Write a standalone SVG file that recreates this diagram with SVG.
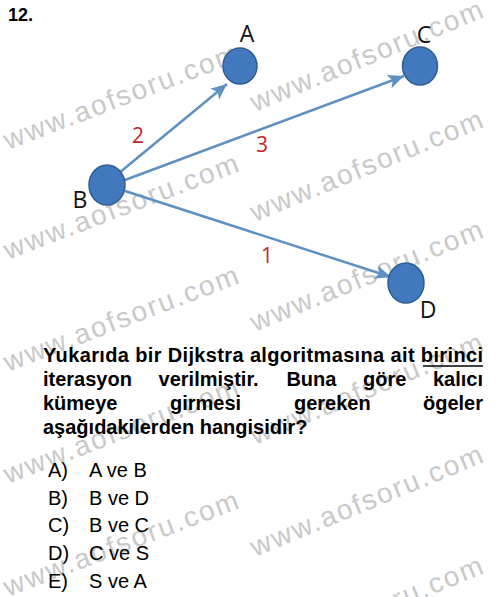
<svg xmlns="http://www.w3.org/2000/svg" width="500" height="597" viewBox="0 0 500 597">
<style>
.wm{font-family:"Liberation Sans",Arial,sans-serif;font-size:28px;letter-spacing:2px;fill:#c9c9c9}
.node{fill:#4279be;stroke:#2d5e91;stroke-width:1.5}
.lbl{font-family:"Open Sans","Noto Sans",sans-serif;font-size:23px;fill:#111;text-anchor:middle}
.num{font-family:"Open Sans","Noto Sans",sans-serif;font-size:21px;fill:#c1272d;text-anchor:middle}
.edge{stroke:#5f90c2;stroke-width:2.5;fill:none;marker-end:url(#arr)}
.q{font-family:"Liberation Sans",Arial,sans-serif;font-size:20px;font-weight:bold;fill:#000}
.opt{font-family:"Liberation Sans",Arial,sans-serif;font-size:20px;fill:#000}
</style>
<defs>
<marker id="arr" markerUnits="userSpaceOnUse" markerWidth="18" markerHeight="16" viewBox="0 0 18 16" refX="16" refY="8" orient="auto">
<path d="M0,1 L16,8 L0,15 L4,8 Z" fill="#5f90c2"/>
</marker>
</defs>
<rect width="500" height="597" fill="#fff"/>
<g id="watermarks">
<text class="wm" transform="translate(8,150) rotate(-21)">www.aofsoru.com</text>
<text class="wm" transform="translate(8,260) rotate(-21)">www.aofsoru.com</text>
<text class="wm" transform="translate(8,372) rotate(-21)">www.aofsoru.com</text>
<text class="wm" transform="translate(8,484) rotate(-21)">www.aofsoru.com</text>
<text class="wm" transform="translate(8,597) rotate(-21)">www.aofsoru.com</text>
<text class="wm" transform="translate(255,112) rotate(-22.5)">www.aofsoru.com</text>
<text class="wm" transform="translate(255,222) rotate(-22.5)">www.aofsoru.com</text>
<text class="wm" transform="translate(255,332) rotate(-22.5)">www.aofsoru.com</text>
<text class="wm" transform="translate(255,445) rotate(-22.5)">www.aofsoru.com</text>
<text class="wm" transform="translate(255,557) rotate(-22.5)">www.aofsoru.com</text>
<text class="wm" transform="translate(255,668) rotate(-22.5)">www.aofsoru.com</text>
</g>
<text x="8" y="21" class="q" style="font-size:18px">12.</text>
<g id="connectors">
<line class="edge" x1="119" y1="173" x2="227" y2="84"/>
<text class="num" x="138" y="143">2</text>
<line class="edge" x1="125" y1="180" x2="404" y2="76"/>
<text class="num" x="262" y="152">3</text>
<line class="edge" x1="125" y1="191" x2="391" y2="277"/>
<text class="num" x="267" y="263">1</text>
</g>
<g id="node-A">
<ellipse class="node" cx="240" cy="66" rx="17" ry="18"/>
<text class="lbl" x="247" y="42">A</text>
</g>
<g id="node-C">
<ellipse class="node" cx="420" cy="66" rx="17.5" ry="19"/>
<text class="lbl" x="424" y="43">C</text>
</g>
<g id="node-B">
<ellipse class="node" cx="107" cy="185" rx="18" ry="20"/>
<text class="lbl" x="80" y="208">B</text>
</g>
<g id="node-D">
<ellipse class="node" cx="406" cy="283" rx="18" ry="20"/>
<text class="lbl" x="428" y="318">D</text>
</g>
<g id="question">
<text class="q" x="43" y="362" textLength="440" lengthAdjust="spacing">Yukarıda bir Dijkstra algoritmasına ait birinci</text>
<line x1="423" y1="366" x2="483" y2="366" stroke="#000" stroke-width="1.6"/>
<text class="q" y="386"><tspan x="43">iterasyon</tspan><tspan x="158.6">verilmiştir.</tspan><tspan x="286.4">Buna</tspan><tspan x="363">göre</tspan><tspan x="483" text-anchor="end">kalıcı</tspan></text>
<text class="q" y="410"><tspan x="43">kümeye</tspan><tspan x="170">girmesi</tspan><tspan x="294">gereken</tspan><tspan x="483" text-anchor="end">ögeler</tspan></text>
<text class="q" x="43" y="434">aşağıdakilerden hangisidir?</text>
</g>
<g id="options">
<text class="opt" x="48" y="477">A)</text><text class="opt" x="89" y="477">A ve B</text>
<text class="opt" x="48" y="505">B)</text><text class="opt" x="89" y="505">B ve D</text>
<text class="opt" x="48" y="532">C)</text><text class="opt" x="89" y="532">B ve C</text>
<text class="opt" x="48" y="560">D)</text><text class="opt" x="89" y="560">C ve S</text>
<text class="opt" x="48" y="588">E)</text><text class="opt" x="89" y="588">S ve A</text>
</g>
</svg>
